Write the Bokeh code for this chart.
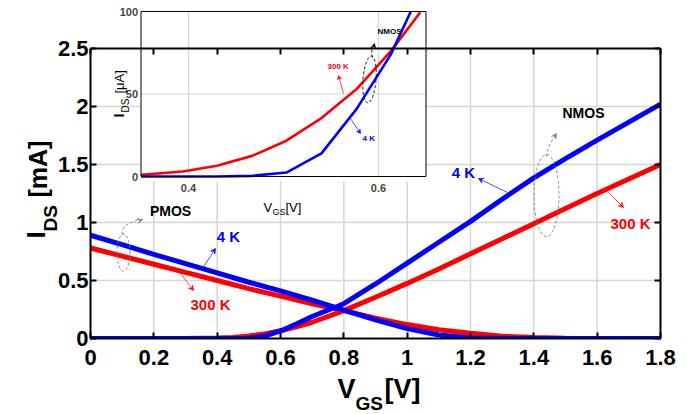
import math
from bokeh.plotting import figure
from bokeh.models import Range1d, LinearAxis, FixedTicker, Label, Arrow, VeeHead
from bokeh.embed import file_html
from bokeh.resources import INLINE

# ---------------- data ----------------
v_nmos = [0, 0.1, 0.2, 0.3, 0.4, 0.45, 0.5, 0.55, 0.6, 0.65, 0.7, 0.8, 0.9, 1.0, 1.1, 1.2, 1.3, 1.4, 1.5, 1.6, 1.7, 1.8]
i_nmos_4k = [0, 0, 0, 0, 0, 0.0004, 0.002, 0.02, 0.065, 0.125, 0.19, 0.30, 0.47, 0.65, 0.83, 1.01, 1.2, 1.385, 1.55, 1.71, 1.865, 2.02]
i_nmos_300k = [0, 0.0001, 0.0003, 0.001, 0.0035, 0.008, 0.021, 0.04, 0.067, 0.1, 0.14, 0.24, 0.355, 0.475, 0.6, 0.73, 0.86, 0.99, 1.12, 1.25, 1.375, 1.5]

v_pmos = [0, 0.1, 0.2, 0.3, 0.4, 0.5, 0.6, 0.7, 0.8, 0.9, 1.0, 1.1, 1.2, 1.3, 1.4, 1.5, 1.6, 1.7, 1.8]
i_pmos_4k = [0.89, 0.81, 0.725, 0.645, 0.565, 0.485, 0.41, 0.33, 0.245, 0.16, 0.085, 0.03, 0.005, 0, 0, 0, 0, 0, 0]
i_pmos_300k = [0.78, 0.71, 0.64, 0.57, 0.5, 0.43, 0.365, 0.3, 0.24, 0.175, 0.12, 0.075, 0.045, 0.02, 0.008, 0.002, 0, 0, 0]

inset_v_300k = [0.35, 0.394, 0.43, 0.467, 0.503, 0.54, 0.577, 0.613, 0.644]
inset_i_300k = [1, 3, 6.5, 12.5, 21.7, 35.4, 53, 76, 99.6]
inset_v_4k = [0.35, 0.43, 0.467, 0.503, 0.54, 0.577, 0.613, 0.634]
inset_i_4k = [0, 0, 0.4, 2.4, 14, 41, 74, 100]

x_ticks = [0, 0.2, 0.4, 0.6, 0.8, 1.0, 1.2, 1.4, 1.6, 1.8]
x_tick_labels = ["0", "0.2", "0.4", "0.6", "0.8", "1", "1.2", "1.4", "1.6", "1.8"]
y_ticks = [0, 0.5, 1.0, 1.5, 2.0, 2.5]
y_tick_labels = ["0", "0.5", "1", "1.5", "2", "2.5"]
inset_x_lim = [0.35, 0.65]
inset_y_lim = [0, 100]
inset_x_ticks = [0.4, 0.6]
inset_x_tick_labels = ["0.4", "0.6"]
inset_y_ticks = [0, 50, 100]
inset_y_tick_labels = ["0", "50", "100"]

# ---------------- layout (pixels in page coordinates) ----------------
W, H = 697, 414
FL, FR = 90, 660                 # pixel columns of x=0 and x=1.8
Y0PX, YTOPPX = 338, 48           # pixel rows of y=0 and y=2.5
XMAX, YMAX = x_ticks[-1], y_ticks[-1]

def mx(px):
    return (px - FL) / (FR - FL) * XMAX

def my(py):
    return (Y0PX - py) / (Y0PX - YTOPPX) * YMAX

# inset scale: 0.4 V at px 188, 0.6 V at px 378 ; 100 uA at py 11, 0 at py 176
IX04, IX06 = 188, 378
IY100, IY0 = 11, 176

def ix(px):
    return 0.4 + (px - IX04) * (0.2 / (IX06 - IX04))

def iy(py):
    return (IY0 - py) * (100 / (IY0 - IY100))

def ipx(x):
    return IX04 + (x - 0.4) * (IX06 - IX04) / 0.2

def ipy(y):
    return IY0 - y * (IY0 - IY100) / 100

RED = "#ff0000"
BLUE = "#0000ff"
GRID = "#d6d6d6"
FONT = "Liberation Sans"

p = figure(width=W, height=H, x_range=Range1d(mx(0), mx(W)), y_range=Range1d(my(H), my(0)),
           output_backend="svg", toolbar_location=None, title=None, min_border=0)
p.outline_line_color = None
p.xgrid.visible = False
p.ygrid.visible = False
p.extra_x_ranges = {"ix": Range1d(ix(0), ix(W))}
p.extra_y_ranges = {"iy": Range1d(iy(H), iy(0))}

def style_axis(ax):
    ax.axis_line_width = 2
    ax.major_tick_line_width = 2
    ax.major_tick_in = 6
    ax.major_tick_out = 0
    ax.minor_tick_line_color = None
    ax.major_label_text_font = FONT
    ax.major_label_text_font_style = "bold"
    ax.major_label_text_font_size = "22px"
    ax.major_label_text_color = "black"

xa = p.xaxis[0]
xa.ticker = FixedTicker(ticks=x_ticks)
xa.major_label_overrides = {t: l for t, l in zip(x_ticks, x_tick_labels)}
xa.fixed_location = 0
xa.bounds = (0, XMAX)
ya = p.yaxis[0]
ya.ticker = FixedTicker(ticks=y_ticks)
ya.major_label_overrides = {t: l for t, l in zip(y_ticks, y_tick_labels)}
ya.fixed_location = 0
ya.bounds = (0, YMAX)
style_axis(xa)
style_axis(ya)
xa.major_label_standoff = 11
ya.major_label_standoff = 2

ra = LinearAxis(ticker=FixedTicker(ticks=y_ticks), bounds=(0, YMAX), fixed_location=XMAX)
ra.major_label_overrides = {t: "" for t in y_ticks}
style_axis(ra)
p.add_layout(ra, "right")
ta = LinearAxis(ticker=FixedTicker(ticks=x_ticks), bounds=(0, XMAX), fixed_location=YMAX)
ta.major_label_overrides = {t: "" for t in x_ticks}
style_axis(ta)
p.add_layout(ta, "above")

# grid lines inside the box
gx = x_ticks[1:-1]
gy = y_ticks[1:-1]
p.segment(x0=gx, y0=[0] * len(gx), x1=gx, y1=[YMAX] * len(gx), line_color=GRID, line_width=1.5)
p.segment(x0=[0] * len(gy), y0=gy, x1=[XMAX] * len(gy), y1=gy, line_color=GRID, line_width=1.5)

# main curves
p.line(v_pmos, i_pmos_300k, line_color=RED, line_width=5)
p.line(v_nmos, i_nmos_300k, line_color=RED, line_width=5)
p.line(v_pmos, i_pmos_4k, line_color=BLUE, line_width=5)
p.line(v_nmos, i_nmos_4k, line_color=BLUE, line_width=5)

# clip the thick lines at the box edges (like the axes clipping)
p.quad(left=[mx(FL - 8), 0, XMAX], right=[0, XMAX, mx(FR + 8)],
       bottom=[0, my(Y0PX + 6), 0], top=[YMAX, 0, YMAX],
       fill_color="white", line_color=None)

# text helper
def lab(text, px, py, size, color="black", align="left", baseline="alphabetic", angle=0, bold=True):
    p.add_layout(Label(x=mx(px), y=my(py), text=text, text_font=FONT, text_font_size=f"{size}px",
                       text_font_style="bold" if bold else "normal", text_color=color,
                       text_align=align, text_baseline=baseline, angle=angle))

# axis titles
lab("V", 337, 388, 27)
lab("GS", 355, 403, 19)
lab("[V]", 384, 388, 27)
lab("I", 35, 238, 26, angle=math.pi / 2)
lab("DS", 50, 231, 19, angle=math.pi / 2)
lab("[mA]", 37, 197, 25, angle=math.pi / 2)

# main annotations
lab("PMOS", 170, 210, 14, align="center", baseline="middle")
lab("4 K", 228, 236, 15, color=BLUE, align="center", baseline="middle")
lab("300 K", 210, 304, 15, color=RED, align="center", baseline="middle")
lab("NMOS", 583, 112, 14, align="center", baseline="middle")
lab("4 K", 463, 172, 15, color=BLUE, align="center", baseline="middle")
lab("300 K", 630, 223, 15, color=RED, align="center", baseline="middle")

def arrow(x0, y0, x1, y1, color, width=0.7, size=5):
    p.add_layout(Arrow(x_start=mx(x0), y_start=my(y0), x_end=mx(x1), y_end=my(y1),
                       line_color=color, line_width=width,
                       end=VeeHead(size=size, line_color=color, fill_color=color, line_width=0.7)))

arrow(202, 268, 215, 248, BLUE)
arrow(180, 273, 193, 290, RED)
arrow(507, 192, 478, 178, BLUE)
arrow(608, 192, 623, 207, RED)

def dashed_loop(cx, cy, w, h, color, ang=0.0):
    p.ellipse(x=[mx(cx)], y=[my(cy)], width=[w], height=[h], angle=[ang],
              width_units="screen", height_units="screen",
              fill_color=None, line_color=color, line_dash="3 2", line_width=0.9)

def dashed_curve(x0, y0, c0x, c0y, c1x, c1y, x1, y1, color, hx, hy):
    p.bezier(x0=[mx(x0)], y0=[my(y0)], x1=[mx(x1)], y1=[my(y1)],
             cx0=[mx(c0x)], cy0=[my(c0y)], cx1=[mx(c1x)], cy1=[my(c1y)],
             line_color=color, line_dash="3 2", line_width=0.9)
    arrow(hx, hy, x1, y1, color, width=0.9, size=5)

dashed_loop(123, 252, 13, 37, "#808080")
dashed_curve(122, 234, 120, 225, 132, 220, 142, 219, "#808080", 139, 220)
dashed_loop(546, 195, 25, 82, "#808080")
dashed_curve(546, 156, 547, 146, 552, 139, 556, 133, "#808080", 554, 136)

# ---------------- inset ----------------
R = dict(x_range_name="ix", y_range_name="iy")
p.quad(left=inset_x_lim[0], right=inset_x_lim[1], bottom=iy(ipy(0) + 5), top=inset_y_lim[1],
       fill_color="white", line_color=None, **R)
p.segment(x0=inset_x_ticks, y0=[inset_y_lim[0]] * len(inset_x_ticks), x1=inset_x_ticks,
          y1=[inset_y_lim[1]] * len(inset_x_ticks), line_color=GRID, line_width=1.2, **R)
p.segment(x0=[inset_x_lim[0]], y0=[inset_y_ticks[1]], x1=[inset_x_lim[1]], y1=[inset_y_ticks[1]],
          line_color=GRID, line_width=1.2, **R)
p.line(inset_v_300k, inset_i_300k, line_color=RED, line_width=2.6, **R)
p.line(inset_v_4k, inset_i_4k, line_color=BLUE, line_width=2.6, **R)
p.quad(left=inset_x_lim[0], right=inset_x_lim[1], bottom=inset_y_lim[0], top=inset_y_lim[1],
       fill_color=None, line_color="black", line_width=1, **R)

for t, l in zip(inset_y_ticks, inset_y_tick_labels):
    p.add_layout(Label(x=ix(ipx(inset_x_lim[0]) - 3), y=t, text=l, text_font=FONT, text_font_size="11px",
                       text_font_style="bold", text_align="right", text_baseline="middle", **R))
for t, l in zip(inset_x_ticks, inset_x_tick_labels):
    p.add_layout(Label(x=t, y=iy(ipy(0) + 11), text=l, text_font=FONT, text_font_size="11px",
                       text_font_style="bold", text_align="center", text_baseline="middle", **R))

lab("V", 263, 207, 13, bold=False)
lab("GS", 272, 211, 9, bold=False)
lab("[V]", 285, 207, 13, bold=False)
lab("I", 118, 117, 14, angle=math.pi / 2)
lab("DS", 125, 112, 10, angle=math.pi / 2, bold=False)
lab("[μA]", 119, 93, 13, angle=math.pi / 2, bold=False)

lab("NMOS", 377, 31, 8, baseline="middle")
lab("300 K", 327, 66, 8, color=RED, baseline="middle")
lab("4 K", 362, 138, 8, color=BLUE, baseline="middle")
arrow(343, 93, 338, 75, RED, width=0.7, size=4)
arrow(350, 118, 360, 133, BLUE, width=0.7, size=4)
dashed_loop(369, 79, 13, 47, "black", ang=-0.08)
dashed_curve(372, 57, 370, 51, 372, 46, 374, 43, "black", 373.5, 45)

open("out.html", "w").write(file_html(p, INLINE))
